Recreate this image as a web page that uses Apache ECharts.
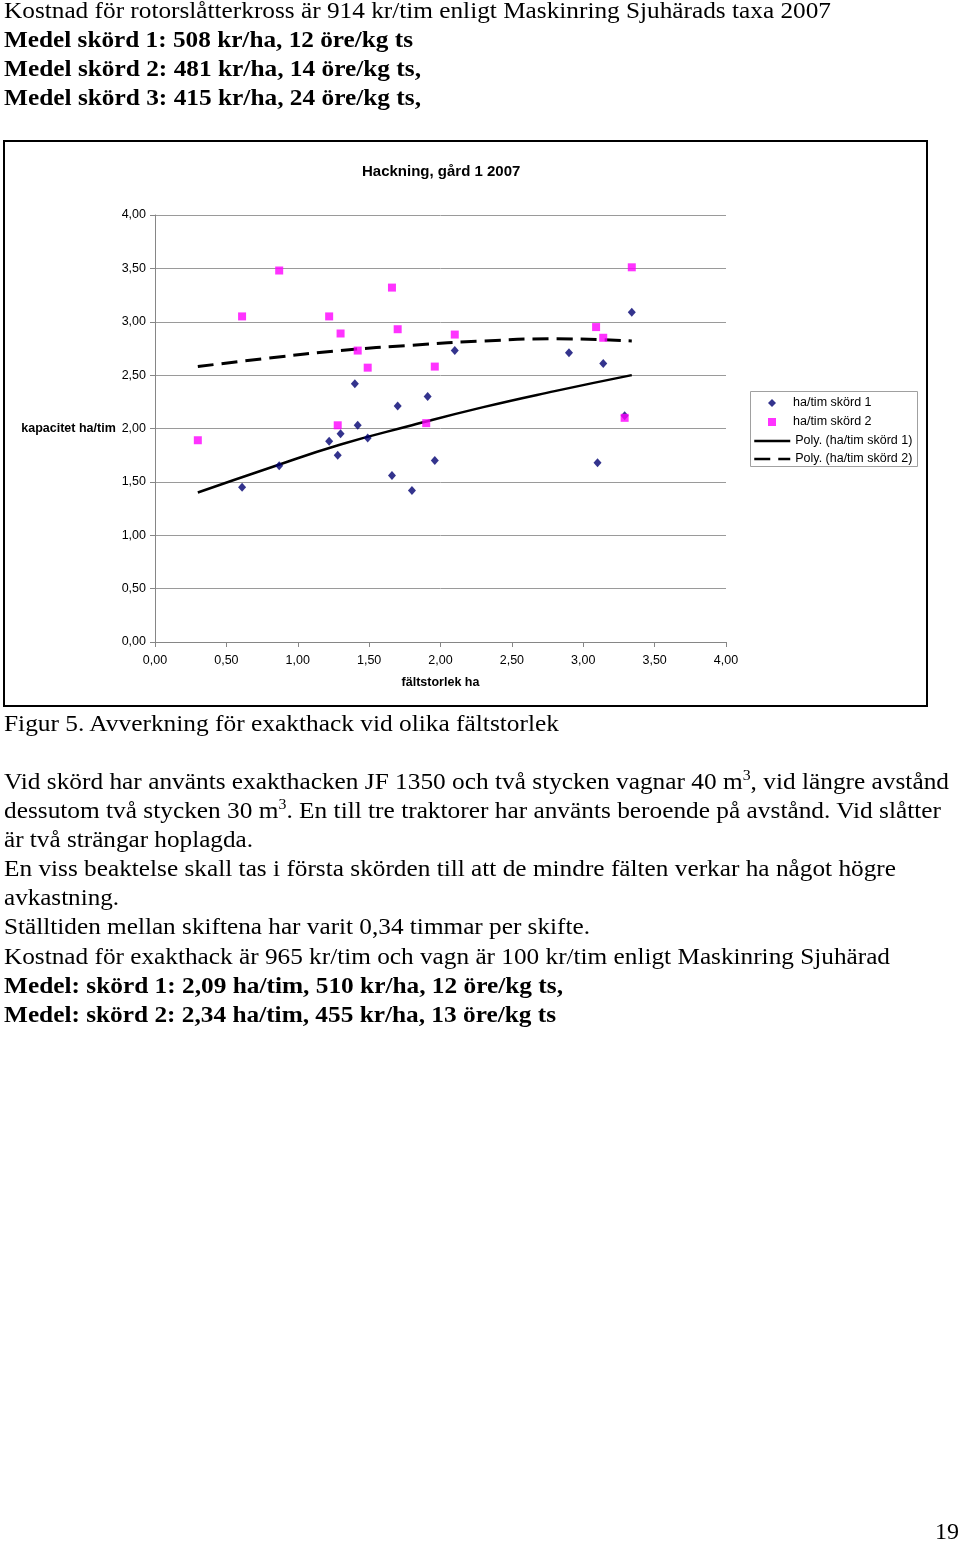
<!DOCTYPE html>
<html>
<head>
<meta charset="utf-8">
<script src="https://cdn.jsdelivr.net/npm/echarts@6/dist/echarts.min.js"></script>
<style>
html,body{margin:0;padding:0;background:#fff;}
body{width:960px;height:1543px;position:relative;overflow:hidden;}
#chart{position:absolute;left:0;top:0;width:960px;height:1543px;}
.t{position:absolute;left:4px;white-space:nowrap;font-family:"Liberation Serif","Times New Roman",serif;font-size:24px;line-height:29px;color:#000;transform-origin:0 0;}
.b{font-weight:bold;}
sup{font-size:15px;line-height:0;vertical-align:9px;}
</style>
</head>
<body>
<div id="chart"></div>
<div class="t" data-r="831" style="top:-4px">Kostnad för rotorslåtterkross är 914 kr/tim enligt Maskinring Sjuhärads taxa 2007</div>
<div class="t b" data-r="413" style="top:25px">Medel skörd 1: 508 kr/ha, 12 öre/kg ts</div>
<div class="t b" data-r="421" style="top:54px">Medel skörd 2: 481 kr/ha, 14 öre/kg ts,</div>
<div class="t b" data-r="421" style="top:83px">Medel skörd 3: 415 kr/ha, 24 öre/kg ts,</div>
<div class="t" data-r="559" style="top:709px">Figur 5. Avverkning för exakthack vid olika fältstorlek</div>
<div class="t" data-r="949" style="top:767px">Vid skörd har använts exakthacken JF 1350 och två stycken vagnar 40 m<sup>3</sup>, vid längre avstånd</div>
<div class="t" data-r="941" style="top:796px">dessutom två stycken 30 m<sup>3</sup>. En till tre traktorer har använts beroende på avstånd. Vid slåtter</div>
<div class="t" data-r="253" style="top:825px">är två strängar hoplagda.</div>
<div class="t" data-r="896" style="top:854px">En viss beaktelse skall tas i första skörden till att de mindre fälten verkar ha något högre</div>
<div class="t" data-r="119" style="top:883px">avkastning.</div>
<div class="t" data-r="590" style="top:912px">Ställtiden mellan skiftena har varit 0,34 timmar per skifte.</div>
<div class="t" data-r="890" style="top:942px">Kostnad för exakthack är 965 kr/tim och vagn är 100 kr/tim enligt Maskinring Sjuhärad</div>
<div class="t b" data-r="563" style="top:971px">Medel: skörd 1: 2,09 ha/tim, 510 kr/ha, 12 öre/kg ts,</div>
<div class="t b" data-r="556" style="top:1000px">Medel: skörd 2: 2,34 ha/tim, 455 kr/ha, 13 öre/kg ts</div>
<div class="t" style="top:1517px;left:935px">19</div>
<script>
// ---- data ----
const sizes1 = [0.61,0.87,1.22,1.28,1.30,1.40,1.42,1.49,1.66,1.70,1.80,1.91,1.96,2.10,2.90,3.10,3.14,3.29,3.34];
const cap1   = [1.45,1.65,1.88,1.75,1.95,2.42,2.03,1.91,1.56,2.21,1.42,2.30,1.70,2.73,2.71,1.68,2.61,2.12,3.09];
const sizes2 = [0.30,0.61,0.87,1.22,1.28,1.30,1.42,1.49,1.66,1.70,1.90,1.96,2.10,3.09,3.14,3.29,3.34];
const cap2   = [1.89,3.05,3.48,3.05,2.03,2.89,2.73,2.57,3.32,2.93,2.05,2.58,2.88,2.95,2.85,2.10,3.51];
const trendX = [0.30,0.80,1.30,1.80,2.30,2.80,3.34];
const trend1 = [1.40,1.63,1.85,2.03,2.20,2.35,2.50];
const trend2 = [2.58,2.66,2.73,2.78,2.82,2.84,2.82];
const xTickLabels = ['0,00','0,50','1,00','1,50','2,00','2,50','3,00','3,50','4,00'];
const yTickLabels = ['0,00','0,50','1,00','1,50','2,00','2,50','3,00','3,50','4,00'];
const seriesNames = ['ha/tim skörd 1','ha/tim skörd 2','Poly. (ha/tim skörd 1)','Poly. (ha/tim skörd 2)'];

// fit text widths
document.querySelectorAll('.t[data-r]').forEach(function(el){
  const target = parseFloat(el.getAttribute('data-r')) - 4;
  const w = el.getBoundingClientRect().width;
  if (w > 0) el.style.transform = 'scaleX(' + (target / w) + ')';
});

const zip = (a, b) => a.map((v, i) => [v, b[i]]);
const FONT = '"Liberation Sans", Arial, sans-serif';
const chart = echarts.init(document.getElementById('chart'), null, {renderer:'canvas'});
chart.setOption({
  animation: false,
  backgroundColor: 'transparent',
  textStyle: {fontFamily: FONT},
  title: {
    text: 'Hackning, gård 1 2007', left: 362, top: 164, padding: 0,
    textStyle: {fontSize: 15, fontWeight: 'bold', color: '#000', fontFamily: FONT}
  },
  graphic: [
    {type:'rect', shape:{x:4, y:141, width:923, height:565}, style:{fill:'none', stroke:'#000', lineWidth:2}, z:-1},
    {type:'rect', shape:{x:750.5, y:391.5, width:167, height:75}, style:{fill:'#fff', stroke:'#a0a0a0', lineWidth:1}, z:-1}
  ],
  legend: [
    {data:[{name:seriesNames[0], icon:'diamond'}, {name:seriesNames[1], icon:'rect'}],
     orient:'vertical', left:768, top:396, itemWidth:8, itemHeight:8, itemGap:5,
     textStyle:{fontSize:12.5, color:'#000', lineHeight:14, padding:[0,0,0,12], fontFamily: FONT}, padding:0},
    {data:[seriesNames[2], seriesNames[3]], orient:'vertical', left:753, top:434, itemWidth:36, itemHeight:10, itemGap:4,
     itemStyle:{opacity:0}, lineStyle:{width:2.5},
     textStyle:{fontSize:12.5, color:'#000', lineHeight:14, fontFamily: FONT}, padding:0}
  ],
  grid: {left:155, top:215, width:571, height:427, containLabel:false},
  xAxis: {
    type:'value', min:0, max:4, interval:0.5,
    name:'fältstorlek ha', nameLocation:'middle', nameGap:34,
    nameTextStyle:{fontSize:12.5, fontWeight:'bold', color:'#000', fontFamily: FONT},
    axisLine:{show:true, lineStyle:{color:'#868686', width:1}},
    axisTick:{show:true, length:5, lineStyle:{color:'#868686'}},
    axisLabel:{fontSize:12.5, color:'#000', margin:12, fontFamily: FONT,
      formatter: v => xTickLabels[Math.round(v / 0.5)]},
    splitLine:{show:false}
  },
  yAxis: {
    type:'value', min:0, max:4, interval:0.5,
    name:'kapacitet ha/tim', nameLocation:'middle', nameRotate:0, nameGap:36,
    nameTextStyle:{fontSize:12.5, fontWeight:'bold', color:'#000', align:'right', verticalAlign:'middle', fontFamily: FONT},
    axisLine:{show:true, lineStyle:{color:'#868686', width:1}},
    axisTick:{show:true, length:5, lineStyle:{color:'#868686'}},
    axisLabel:{fontSize:12.5, color:'#000', margin:9, fontFamily: FONT,
      formatter: v => yTickLabels[Math.round(v / 0.5)]},
    splitLine:{show:true, lineStyle:{color:'#9a9a9a', width:1}}
  },
  series: [
    {name:seriesNames[0], type:'scatter', symbol:'diamond', symbolSize:[8,9],
     itemStyle:{color:'#000070'}, data: zip(sizes1, cap1), z:3},
    {name:seriesNames[1], type:'scatter', symbol:'rect', symbolSize:8,
     itemStyle:{color:'#ff00ff'}, data: zip(sizes2, cap2), z:3},
    {name:seriesNames[2], type:'line', smooth:true, symbol:'none', showSymbol:false,
     lineStyle:{color:'#000', width:2.5, type:'solid'}, itemStyle:{color:'#000'}, data: zip(trendX, trend1), z:2},
    {name:seriesNames[3], type:'line', smooth:true, symbol:'none', showSymbol:false,
     lineStyle:{color:'#000', width:3, type:[16,8]}, itemStyle:{color:'#000'}, data: zip(trendX, trend2), z:2}
  ]
});
</script>
</body>
</html>
